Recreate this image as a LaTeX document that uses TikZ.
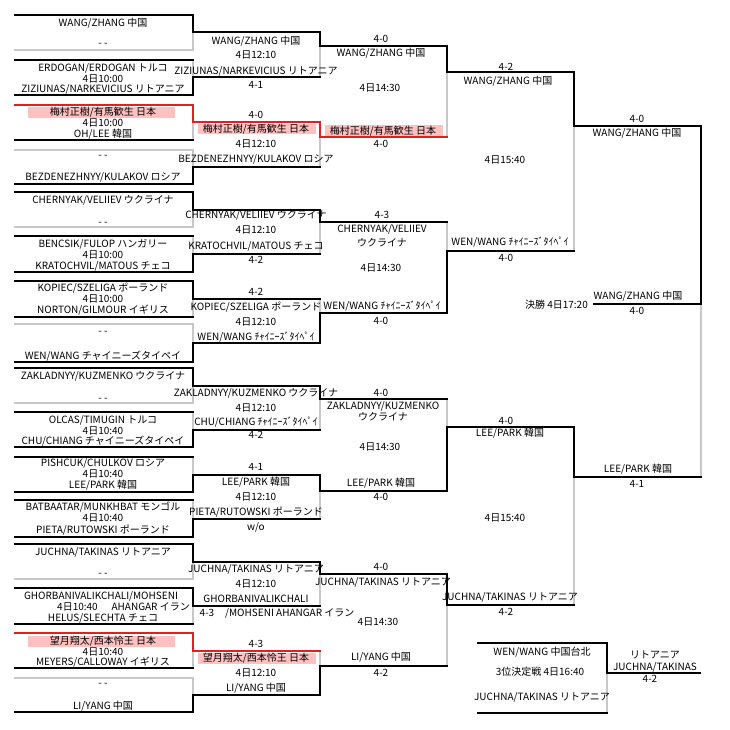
\documentclass[tikz,border=0pt]{standalone}
\usepackage{fontspec}
\setmainfont{Noto Sans CJK JP}
\definecolor{lg}{RGB}{200,200,200}
\definecolor{jr}{RGB}{224,32,32}
\definecolor{pk}{RGB}{255,192,192}
\newcount\tcnt
\newcommand\T[4][]{\global\advance\tcnt by 1\relax\node[lbl,#1] (t\the\tcnt) at (#2,#3) {#4};}
\newcommand\BR[9]{%
 \draw[#8] (#2,#3)--(#2,#5);
 \draw[#9] (#2,#5)--(#2,#4);
 \draw[#6] (#1,#3)--(#2,#3);
 \draw[#7] (#1,#4)--(#2,#4);}
\newcommand\PK[4]{\fill[pk] (#1,#2) rectangle (#3,#4);}
\begin{document}
\begin{tikzpicture}[x=1pt,y=-1pt,
  bk/.style={draw=black,line width=2pt,line cap=rect},
  gy/.style={draw=lg,line width=2pt,line cap=rect},
  rd/.style={draw=jr,line width=2pt,line cap=rect},
  lbl/.style={inner sep=0pt,anchor=base,yshift=-3.6pt,font=\fontsize{10pt}{12pt}\selectfont}]
\fill[white] (0,0) rectangle (730,730);
\useasboundingbox (0,0) rectangle (730,730);
% highlights
\PK{28}{107}{175}{118}
\PK{198}{124}{316}{134.5}
\PK{325}{125}{443}{136.5}
\PK{28}{636}{175}{647}
\PK{198}{653}{316}{663.5}
% round 1
\BR{15}{193}{15}{50}{32.5}{bk}{gy}{bk}{gy}
\BR{15}{193}{60}{95}{77.5}{bk}{bk}{gy}{bk}
\BR{15}{193}{105}{140}{122.5}{rd}{bk}{rd}{gy}
\BR{15}{193}{150}{184}{167}{gy}{bk}{gy}{bk}
\BR{15}{193}{192}{227}{209.5}{bk}{gy}{bk}{gy}
\BR{15}{193}{236}{272}{254}{bk}{bk}{gy}{bk}
\BR{15}{193}{281}{317}{299}{bk}{bk}{bk}{gy}
\BR{15}{193}{324}{362}{343}{gy}{bk}{gy}{bk}
\BR{15}{193}{368}{403}{385.5}{bk}{gy}{bk}{gy}
\BR{15}{193}{412}{447}{429.5}{bk}{bk}{gy}{bk}
\BR{15}{193}{457}{492}{474.5}{bk}{bk}{gy}{bk}
\BR{15}{193}{500}{537}{518.5}{bk}{bk}{gy}{bk}
\BR{15}{193}{544}{579}{561.5}{bk}{gy}{bk}{gy}
\BR{15}{193}{588}{624}{606}{bk}{bk}{bk}{gy}
\BR{15}{193}{633}{668}{650.5}{rd}{bk}{rd}{gy}
\BR{15}{193}{678}{712}{695}{gy}{bk}{gy}{bk}
% round 2
\BR{193}{320}{32.5}{77.5}{46}{bk}{bk}{bk}{gy}
\BR{193}{320}{122.5}{167}{137}{rd}{bk}{rd}{gy}
\BR{193}{320}{209.5}{254}{222}{bk}{bk}{bk}{gy}
\BR{193}{320}{299}{343}{313}{bk}{bk}{gy}{bk}
\BR{193}{320}{385.5}{429.5}{399}{bk}{bk}{bk}{gy}
\BR{193}{320}{474.5}{518.5}{490.5}{bk}{bk}{bk}{gy}
\BR{193}{320}{561.5}{606}{574}{bk}{bk}{bk}{gy}
\BR{193}{320}{650.5}{695}{666}{rd}{bk}{gy}{bk}
% round 3
\BR{320}{447}{46}{137}{72}{bk}{rd}{bk}{gy}
\BR{320}{447}{222}{313}{251}{bk}{bk}{gy}{bk}
\BR{320}{447}{399}{490.5}{427}{bk}{bk}{gy}{bk}
\BR{320}{447}{574}{666}{605}{bk}{bk}{bk}{gy}
% round 4
\BR{447}{574}{72}{251}{126}{bk}{bk}{bk}{gy}
\BR{447}{574}{427}{605}{477}{bk}{bk}{bk}{gy}
% final
\BR{574}{701}{126}{477}{304}{bk}{bk}{bk}{gy}
\draw[bk] (594,304)--(701,304);
% third place
\BR{478}{607}{643}{713}{673}{bk}{bk}{bk}{gy}
\draw[bk] (607,673)--(700,673);
% ---- texts round 1
\T{103}{23}{WANG/ZHANG 中国}
\T{103}{43}{- -}
\T{103}{68}{ERDOGAN/ERDOGAN トルコ}
\T{103}{78.5}{4日10:00}
\T{103}{89}{ZIZIUNAS/NARKEVICIUS リトアニア}
\T{103}{112}{梅村正樹/有馬歓生 日本}
\T{103}{122.5}{4日10:00}
\T{103}{133.5}{OH/LEE 韓国}
\T{103}{155}{- -}
\T{103}{177}{BEZDENEZHNYY/KULAKOV ロシア}
\T{103}{200}{CHERNYAK/VELIIEV ウクライナ}
\T{103}{222}{- -}
\T{103}{243.5}{BENCSIK/FULOP ハンガリー}
\T{103}{255}{4日10:00}
\T{103}{265.5}{KRATOCHVIL/MATOUS チェコ}
\T{103}{288}{KOPIEC/SZELIGA ポーランド}
\T{103}{299}{4日10:00}
\T{103}{310}{NORTON/GILMOUR イギリス}
\T{103}{331}{- -}
\T{103}{356}{WEN/WANG チャイニーズタイペイ}
\T{103}{376}{ZAKLADNYY/KUZMENKO ウクライナ}
\T{103}{398}{- -}
\T{103}{420}{OLCAS/TIMUGIN トルコ}
\T{103}{431}{4日10:40}
\T{103}{441}{CHU/CHIANG チャイニーズタイペイ}
\T{103}{463}{PISHCUK/CHULKOV ロシア}
\T{103}{474}{4日10:40}
\T{103}{485}{LEE/PARK 韓国}
\T{103}{507}{BATBAATAR/MUNKHBAT モンゴル}
\T{103}{518}{4日10:40}
\T{103}{530}{PIETA/RUTOWSKI ポーランド}
\T{103}{552}{JUCHNA/TAKINAS リトアニア}
\T{103}{573}{- -}
\T{101}{596}{GHORBANIVALIKCHALI/MOHSENI}
\T[anchor=base west]{57}{607}{4日10:40}
\T[anchor=base east]{190}{607}{AHANGAR イラン}
\T{103}{618}{HELUS/SLECHTA チェコ}
\T{103}{641}{望月翔太/西本怜王 日本}
\T{103}{651.5}{4日10:40}
\T{103}{662}{MEYERS/CALLOWAY イギリス}
\T{103}{683}{- -}
\T{103}{706}{LI/YANG 中国}
% ---- round 2
\T{256}{41}{WANG/ZHANG 中国}
\T{256}{55}{4日12:10}
\T{256}{71}{ZIZIUNAS/NARKEVICIUS リトアニア}
\T{256}{84.5}{4-1}
\T{256}{115}{4-0}
\T{256}{129}{梅村正樹/有馬歓生 日本}
\T{256}{144}{4日12:10}
\T{256}{159}{BEZDENEZHNYY/KULAKOV ロシア}
\T{256}{215}{CHERNYAK/VELIIEV ウクライナ}
\T{256}{230}{4日12:10}
\T{256}{246}{KRATOCHVIL/MATOUS チェコ}
\T{256}{260}{4-2}
\T{256}{292}{4-2}
\T{256}{307}{KOPIEC/SZELIGA ポーランド}
\T{256}{322}{4日12:10}
\T{256}{337}{WEN/WANG ﾁｬｲﾆｰｽﾞﾀｲﾍﾟｲ}
\T{256}{393}{ZAKLADNYY/KUZMENKO ウクライナ}
\T{256}{408}{4日12:10}
\T{256}{422}{CHU/CHIANG ﾁｬｲﾆｰｽﾞﾀｲﾍﾟｲ}
\T{256}{435}{4-2}
\T{256}{467}{4-1}
\T{256}{482}{LEE/PARK 韓国}
\T{256}{497}{4日12:10}
\T{256}{512}{PIETA/RUTOWSKI ポーランド}
\T{256}{527}{w/o}
\T{256}{569}{JUCHNA/TAKINAS リトアニア}
\T{256}{584}{4日12:10}
\T{256}{599}{GHORBANIVALIKCHALI}
\T{207}{613}{4-3}
\T[anchor=base west]{225}{613}{/MOHSENI AHANGAR イラン}
\T{256}{644}{4-3}
\T{256}{658}{望月翔太/西本怜王 日本}
\T{256}{673}{4日12:10}
\T{256}{688}{LI/YANG 中国}
% ---- round 3
\T{381}{39}{4-0}
\T{381}{53}{WANG/ZHANG 中国}
\T{380}{88}{4日14:30}
\T{383}{130.5}{梅村正樹/有馬歓生 日本}
\T{381}{144}{4-0}
\T{382}{215}{4-3}
\T{382}{229}{CHERNYAK/VELIIEV}
\T{382}{243}{ウクライナ}
\T{381}{268}{4日14:30}
\T{382}{306}{WEN/WANG ﾁｬｲﾆｰｽﾞﾀｲﾍﾟｲ}
\T{381}{321}{4-0}
\T{381}{393}{4-0}
\T{383}{406}{ZAKLADNYY/KUZMENKO}
\T{383}{417}{ウクライナ}
\T{380}{447}{4日14:30}
\T{381}{483}{LEE/PARK 韓国}
\T{381}{497}{4-0}
\T{381}{567}{4-0}
\T{383}{582}{JUCHNA/TAKINAS リトアニア}
\T{378}{622}{4日14:30}
\T{381}{657}{LI/YANG 中国}
\T{381}{673}{4-2}
% ---- round 4
\T{506}{67}{4-2}
\T{508}{81}{WANG/ZHANG 中国}
\T{505}{160}{4日15:40}
\T{510}{242}{WEN/WANG ﾁｬｲﾆｰｽﾞﾀｲﾍﾟｲ}
\T{506}{258}{4-0}
\T{506}{421}{4-0}
\T{510}{433}{LEE/PARK 韓国}
\T{505}{518}{4日15:40}
\T{510}{597}{JUCHNA/TAKINAS リトアニア}
\T{506}{612}{4-2}
% ---- final
\T{637}{119}{4-0}
\T{637}{133}{WANG/ZHANG 中国}
\T[anchor=base east]{588}{305}{決勝 4日17:20}
\T{638}{296}{WANG/ZHANG 中国}
\T{637}{311}{4-0}
\T{638}{469}{LEE/PARK 韓国}
\T{637}{484}{4-1}
% ---- third place
\T{542}{652}{WEN/WANG 中国台北}
\T{540}{672}{3位決定戦 4日16:40}
\T{542}{697}{JUCHNA/TAKINAS リトアニア}
\T{655}{655}{リトアニア}
\T{655}{667}{JUCHNA/TAKINAS}
\T{650}{679}{4-2}
\end{tikzpicture}
\end{document}
